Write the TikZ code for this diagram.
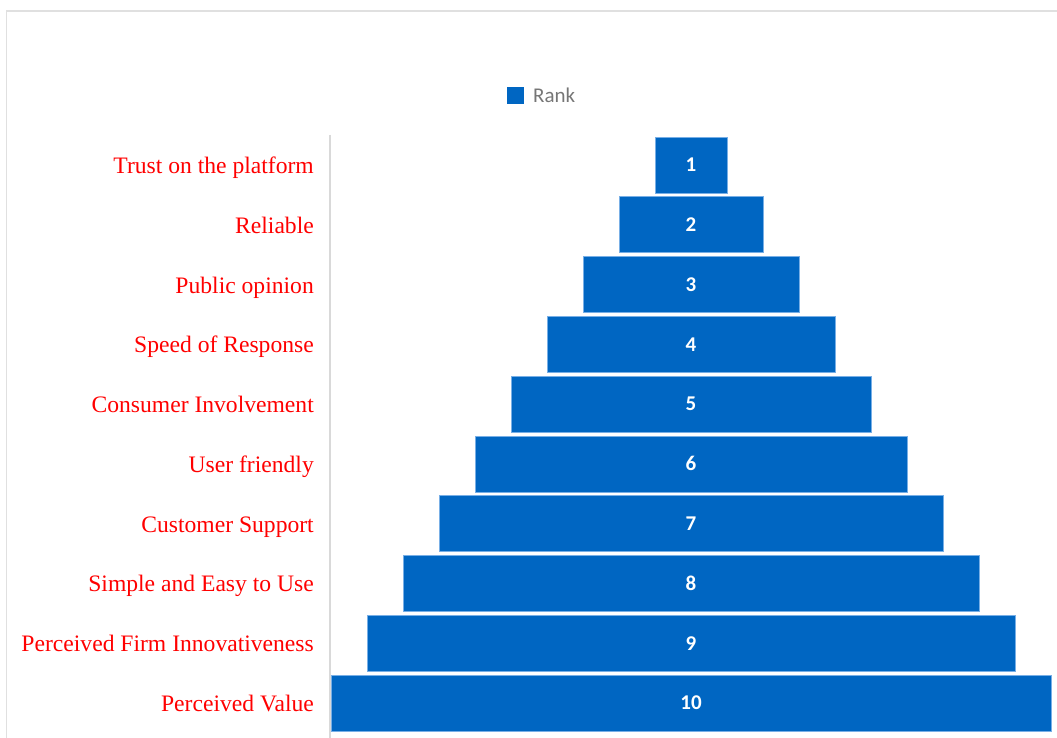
\documentclass[tikz,border=0pt]{standalone}
\usepackage{fontspec}
\setmainfont{Liberation Serif}
\newfontfamily\calib{Carlito}
\definecolor{barblue}{RGB}{0,102,194}
\definecolor{baredge}{RGB}{120,175,230}
\definecolor{axisgray}{RGB}{217,217,217}
\definecolor{framegray}{RGB}{224,224,224}
\definecolor{legendgray}{RGB}{118,118,118}
\definecolor{labelred}{RGB}{255,0,0}
\begin{document}
\begin{tikzpicture}[x=1pt,y=-1pt,
  rankbar/.style={draw=baredge,line width=0.8pt,fill=barblue,inner sep=0pt,
    minimum height=56pt,text=white,font=\calib\bfseries\fontsize{21}{21}\selectfont},
  rowlabel/.style={anchor=base east,inner sep=0pt,text=labelred,
    font=\fontsize{23.6}{23.6}\selectfont}]
\useasboundingbox (0,0) rectangle (1057,738);
% frame
\draw[framegray,line width=1.2pt] (6.5,738) -- (6.5,11) -- (1057,11);
% axis
\draw[axisgray,line width=1.8pt] (330,135) -- (330,738);
% legend
\node[fill=barblue,minimum size=17pt,inner sep=0pt] (legsq) at (515.5,95.5) {};
\node[anchor=west,inner sep=0pt,text=legendgray,font=\calib\fontsize{21}{21}\selectfont] (legtxt) at (533,95.5) {Rank};
% bars and labels
\foreach \k/\lab in {1/Trust on the platform,2/Reliable,3/Public opinion,4/Speed of Response,
  5/Consumer Involvement,6/User friendly,7/Customer Support,8/Simple and Easy to Use,
  9/Perceived Firm Innovativeness,10/Perceived Value}{
  \pgfmathsetmacro{\yc}{165+59.78*(\k-1)}
  \pgfmathsetmacro{\w}{72*\k}
  \node[rankbar,minimum width=\w pt] (bar\k) at (691,\yc) {\k};
  \node[rowlabel] (lab\k) at (314,\yc+8.5) {\lab};
}
\end{tikzpicture}
\end{document}
